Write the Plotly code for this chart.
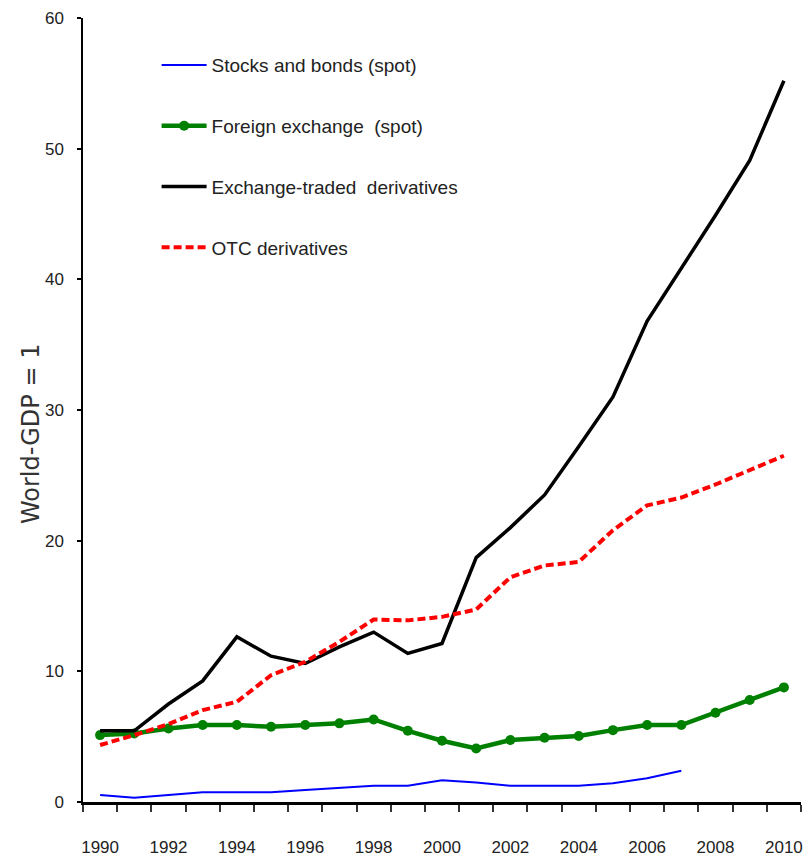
import plotly.graph_objects as go

years = list(range(1990, 2011))

stocks_bonds = [0.54, 0.33, 0.54, 0.74, 0.74, 0.74, 0.92, 1.10, 1.25, 1.25, 1.66,
                1.50, 1.25, 1.25, 1.25, 1.43, 1.81, 2.39]
foreign_exchange = [5.12, 5.25, 5.63, 5.89, 5.89, 5.76, 5.89, 6.02, 6.32, 5.45, 4.69,
                    4.10, 4.74, 4.92, 5.05, 5.50, 5.89, 5.89, 6.83, 7.80, 8.77]
exchange_traded = [5.45, 5.45, 7.50, 9.27, 12.64, 11.16, 10.60, 11.87, 13.00, 11.37, 12.13,
                   18.70, 21.00, 23.50, 27.20, 31.00, 36.80, 40.80, 44.90, 49.10, 55.20]
otc = [4.36, 5.12, 5.96, 7.03, 7.67, 9.70, 10.73, 12.26, 13.97, 13.90, 14.17,
       14.73, 17.20, 18.10, 18.37, 20.80, 22.70, 23.30, 24.30, 25.40, 26.50]

names = ["Stocks and bonds (spot)", "Foreign exchange  (spot)",
         "Exchange-traded  derivatives", "OTC derivatives"]
y_title = "World-GDP = 1"
y_ticks = [0, 10, 20, 30, 40, 50, 60]
x_ticks = list(range(1990, 2011, 2))

fig = go.Figure()
fig.add_trace(go.Scatter(x=years[:len(stocks_bonds)], y=stocks_bonds, name=names[0],
                         mode="lines", line=dict(color="#0000FF", width=2),
                         legendgroup="a"))
fig.add_trace(go.Scatter(x=years, y=foreign_exchange, name=names[1],
                         mode="lines+markers", line=dict(color="#008000", width=4.5),
                         marker=dict(color="#008000", size=10, symbol="circle"),
                         legendgroup="b"))
fig.add_trace(go.Scatter(x=years, y=exchange_traded, name=names[2],
                         mode="lines", line=dict(color="#000000", width=3.5),
                         legendgroup="c"))
fig.add_trace(go.Scatter(x=years, y=otc, name=names[3],
                         mode="lines", line=dict(color="#FF0000", width=4, dash="8px,4px"),
                         legendgroup="d"))

fig.add_annotation(text=y_title, xref="paper", yref="paper", x=-0.073, y=0.47,
                   xanchor="center", yanchor="middle", textangle=-90, showarrow=False,
                   font=dict(family="DejaVu Sans, sans-serif", size=24, color="#333333"))

fig.update_layout(
    width=812, height=866,
    margin=dict(l=83, r=9, t=17, b=64),
    paper_bgcolor="white", plot_bgcolor="white",
    font=dict(family="Liberation Sans, Arial, sans-serif", color="#222222"),
    showlegend=True,
    legend=dict(x=0.1025, y=0.964, xanchor="left", yanchor="top",
                font=dict(size=19, color="#222222"),
                bgcolor="rgba(0,0,0,0)", tracegroupgap=33, itemwidth=45,
                traceorder="grouped"),
    xaxis=dict(
        range=[1989.5, 2010.5], tickmode="array", tickvals=x_ticks,
        ticktext=[str(v) for v in x_ticks], ticks="", ticklabelstandoff=28,
        tickfont=dict(size=17, color="#222222"),
        showline=True, linecolor="black", linewidth=3, showgrid=False, zeroline=False,
        minor=dict(tick0=1989.5, dtick=1, ticks="outside", ticklen=7,
                   tickcolor="#333333", tickwidth=1.5, showgrid=False),
    ),
    yaxis=dict(
        range=[0, 60], tickmode="array", tickvals=y_ticks, ticks="outside", ticklen=4,
        tickcolor="black", tickwidth=1.5, tickfont=dict(size=17, color="#222222"),
        showline=True, linecolor="black", linewidth=1.5, showgrid=False, zeroline=False,
        ticklabelstandoff=10,
    ),
)

fig.write_html("out.html", config={"displayModeBar": False},
               post_script="document.body.style.margin='0px';")
